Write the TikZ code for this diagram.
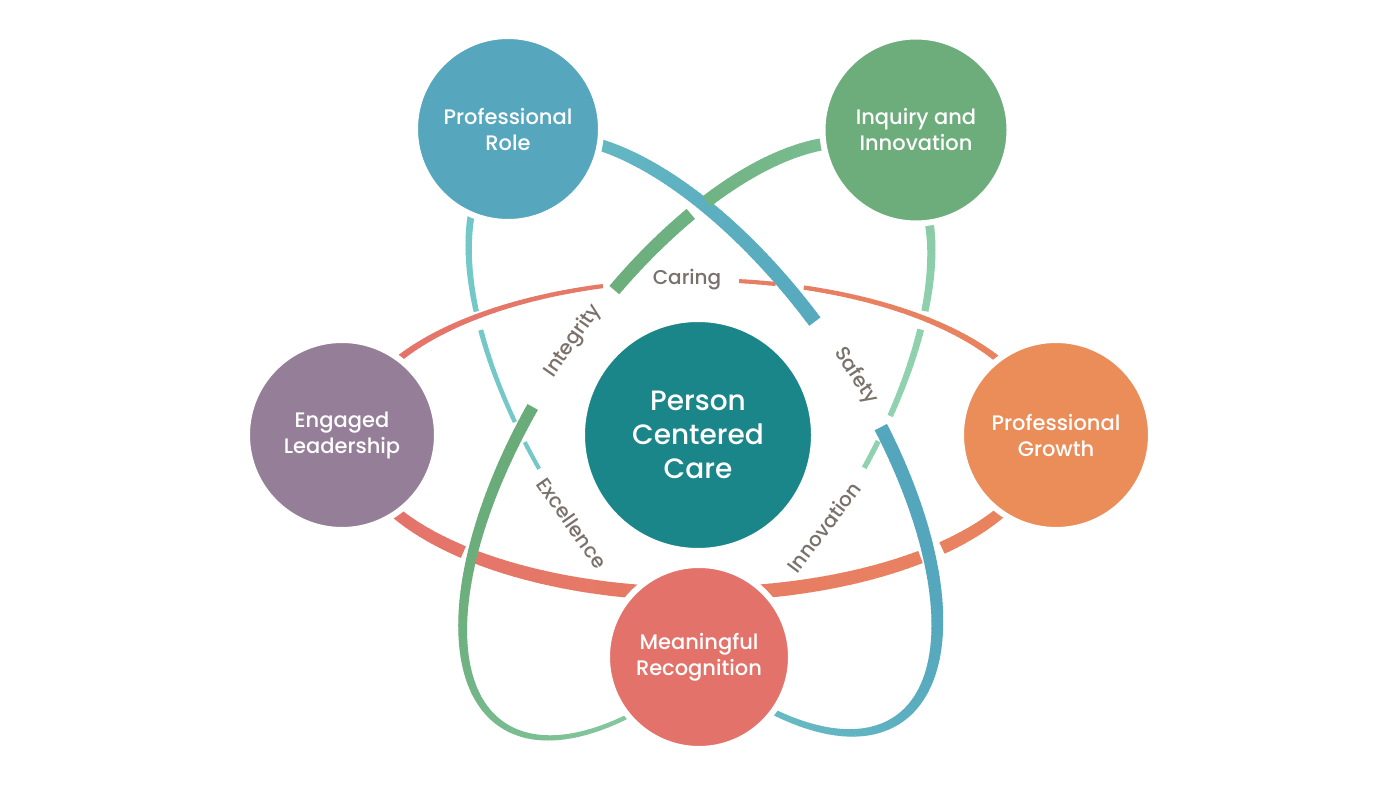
\documentclass[tikz,border=0pt]{standalone}
\usepackage{fontspec}
\setmainfont{Poppins Medium}
\usepackage{tikz}

\definecolor{roleblue}{HTML}{56A7BD}
\definecolor{inquirygreen}{HTML}{6DAD7C}
\definecolor{engagedpurple}{HTML}{957E98}
\definecolor{growthorange}{HTML}{EB8D58}
\definecolor{recogred}{HTML}{E3736A}
\definecolor{careteal}{HTML}{1B8689}
\definecolor{wordgray}{HTML}{7A716B}
\definecolor{ringredL}{HTML}{E4736B}
\definecolor{ringredR}{HTML}{E9845E}
\definecolor{ringblueD}{HTML}{54A6BD}
\definecolor{ringblueL}{HTML}{74C9C8}
\definecolor{ringgreenD}{HTML}{69AC79}
\definecolor{ringgreenL}{HTML}{90D2AF}

\tikzset{
  hub/.style={circle, draw=white, line width=6pt, text=white, align=center,
    inner sep=0pt, font=\fontsize{21}{26}\selectfont},
  word/.style={text=wordgray, inner sep=0pt, font=\fontsize{20}{24}\selectfont}
}

\begin{document}
\begin{tikzpicture}[x=1pt, y=1pt]
        \fill[white] (0,0) rectangle (1396,-786);
        \useasboundingbox (0,0) rectangle (1396,-786);

        % caring ring
        \begin{scope}[shift={(698,-437)}]
                \foreach \t in {-180,...,179} {
                        \pgfmathtruncatemacro\gap{(\t>82)*(\t<106)+(\t>71)*(\t<77)+(\t>-51)*(\t<-45)+(\t>-134)*(\t<-130)}
                        \ifnum\gap=0
                                \pgfmathsetmacro\lw{9-5*sin(\t)}
                                \pgfmathtruncatemacro\mix{50+50*cos(\t)}
                                \draw[line width=\lw pt, draw=ringredR!\mix!ringredL] (\t:345 and 157) arc[start angle=\t, delta angle=1.15, x radius=345, y radius=157];
                        \fi
                }
        \end{scope}

        % safety / excellence ring
        \begin{scope}[shift={(703,-435)}, rotate=-55.5]
                \foreach \t in {-180,...,179} {
                        \pgfmathtruncatemacro\gap{(\t>73)*(\t<95)+(\t>-102)*(\t<-40)+(\t>-111)*(\t<-106)+(\t>-133)*(\t<-128)}
                        \ifnum\gap=0
                                \pgfmathsetmacro\lw{9+5*sin(\t)}
                                \pgfmathtruncatemacro\mix{50+50*sin(\t+30)}
                                \draw[line width=\lw pt, draw=ringblueD!\mix!ringblueL] (\t:345 and 157) arc[start angle=\t, delta angle=1.15, x radius=345, y radius=157];
                        \fi
                }
        \end{scope}

        % integrity / innovation ring
        \begin{scope}[shift={(697,-440)}, rotate=55.5]
                \foreach \t in {-180,...,179} {
                        \pgfmathtruncatemacro\gap{(\t>53)*(\t<58)+(\t>76)*(\t<101)+(\t>-52)*(\t<-47)+(\t>-74)*(\t<-68)+(\t>-141)*(\t<-78)}
                        \ifnum\gap=0
                                \pgfmathsetmacro\lw{8.5+4.5*cos(\t-60)}
                                \pgfmathtruncatemacro\mix{50+50*sin(\t-15)}
                                \draw[line width=\lw pt, draw=ringgreenD!\mix!ringgreenL] (\t:345 and 157) arc[start angle=\t, delta angle=1.15, x radius=345, y radius=157];
                        \fi
                }
        \end{scope}

        \node (role) [hub, fill=roleblue, minimum size=186pt] at (508,-129) {Professional\\Role};
        \node (inquiry) [hub, fill=inquirygreen, minimum size=187pt] at (916,-130) {Inquiry and\\Innovation};
        \node (engaged) [hub, fill=engagedpurple, minimum size=190pt] at (342,-435) {Engaged\\Leadership};
        \node (growth) [hub, fill=growthorange, minimum size=190pt] at (1056,-435) {Professional\\Growth};
        \node (recog) [hub, fill=recogred, minimum size=184pt] at (699,-657) {Meaningful\\Recognition};
        \node (care) [hub, fill=careteal, minimum size=232pt, font=\fontsize{28}{34}\selectfont] at (698,-435) {Person\\Centered\\Care};

        \node (caring) [word] at (687,-280) {Caring};
        \node (integrity) [word, rotate=55] at (573,-341) {Integrity};
        \node (safety) [word, rotate=-57] at (856,-376) {Safety};
        \node (excellence) [word, rotate=-55] at (572,-523) {Excellence};
        \node (innovation) [word, rotate=53] at (824,-527) {Innovation};
\end{tikzpicture}
\end{document}
